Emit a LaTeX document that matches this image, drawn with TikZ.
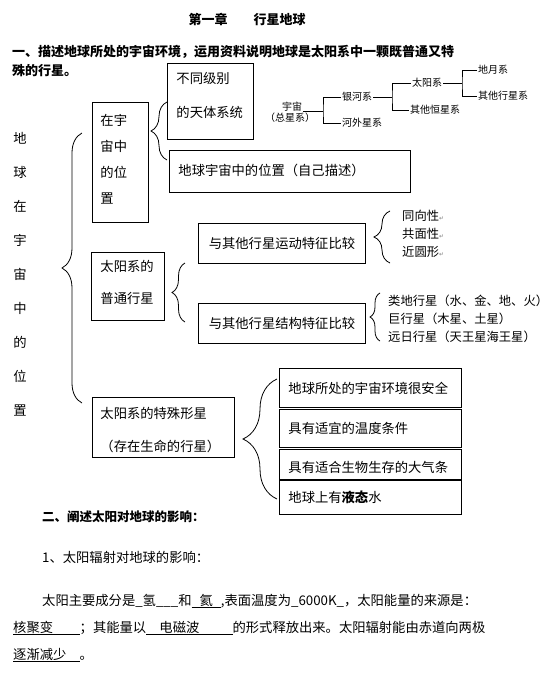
\documentclass[tikz,border=0pt]{standalone}
\usepackage{fontspec}
\setmainfont{Noto Sans CJK SC}
\newfontfamily\retfont{DejaVu Sans}
\usetikzlibrary{decorations.pathreplacing}

\begin{document}
\begin{tikzpicture}[x=1pt,y=-1pt,
  box/.style={draw,line width=0.9pt,anchor=north west,inner xsep=9pt,inner ysep=0pt,align=left,font=\fontsize{13.3}{16}\selectfont},
  txt/.style={inner sep=0pt,anchor=west,font=\fontsize{13.3}{16}\selectfont},
  lst/.style={inner sep=0pt,anchor=west,font=\fontsize{12.3}{14}\selectfont},
  tree/.style={inner sep=1pt,anchor=west,font=\fontsize{10}{11}\selectfont},
  brc/.style={decorate,decoration={brace,amplitude=#1},line width=0.8pt},
  ret/.style={}]

\useasboundingbox (0,0) rectangle (551,683);

\node[font=\bfseries\fontsize{13}{16}\selectfont] (title) at (247,19) {第一章\hspace{2em}行星地球};

\node[txt,font=\bfseries\fontsize{13}{16}\selectfont] (h1) at (12,52) {一、描述地球所处的宇宙环境，运用资料说明地球是太阳系中一颗既普通又特};
\node[txt,font=\bfseries\fontsize{13}{16}\selectfont] (h1b) at (12,71) {殊的行星。};

\node[txt,anchor=center] (s1) at (20,138) {地};
\node[txt,anchor=center] (s2) at (20,172) {球};
\node[txt,anchor=center] (s3) at (20,206) {在};
\node[txt,anchor=center] (s4) at (20,240) {宇};
\node[txt,anchor=center] (s5) at (20,274) {宙};
\node[txt,anchor=center] (s6) at (20,308) {中};
\node[txt,anchor=center] (s7) at (20,342) {的};
\node[txt,anchor=center] (s8) at (20,376) {位};
\node[txt,anchor=center] (s9) at (20,410) {置};

\draw[brc=20pt] (82,403) -- (82,133);

\node[box,inner xsep=8pt,text width=40pt,text height=23pt,text depth=97pt,font=\fontsize{13.3}{26}\selectfont] (zai) at (92,102) {在宇\\宙中\\的位\\置};

\draw[brc=16pt] (167,160) -- (167,102);

\node[box,text width=68pt,text height=20pt,text depth=56pt,font=\fontsize{13.3}{34}\selectfont] (jibie) at (167,63) {不同级别\\的天体系统};

\node[box,text width=223pt,text height=25pt,text depth=17pt] (weizhi) at (169,150) {地球宇宙中的位置（自己描述）};

\node[tree,anchor=center] (yz) at (292,107) {宇宙};
\node[tree,anchor=center] (zxx) at (290,118) {（总星系）};
\node[tree] (yh) at (341,97) {银河系};
\node[tree] (hw) at (341,123) {河外星系};
\node[tree] (tyx) at (411,83) {太阳系};
\node[tree] (qhx) at (409,110) {其他恒星系};
\node[tree] (dyx) at (477,70) {地月系};
\node[tree] (qxx) at (477,96) {其他行星系};

\coordinate (b1) at (323,111);
\coordinate (b2) at (392,97);
\coordinate (b3) at (462,83);

\draw[line width=0.7pt] (b1 -| yz.east) -- (b1);
\draw[line width=0.7pt] (yh.west) -| (b1) |- (hw.west);
\draw[line width=0.7pt] (yh.east) -- (b2);
\draw[line width=0.7pt] (tyx.west) -| (b2) |- (qhx.west);
\draw[line width=0.7pt] (tyx.east) -- (b3);
\draw[line width=0.7pt] (dyx.west) -| (b3) |- (qxx.west);

\node[box,text width=55pt,text height=19pt,text depth=49pt,font=\fontsize{13.3}{32}\selectfont] (putong) at (91,252) {太阳系的\\普通行星};

\draw[brc=13pt] (185,322) -- (185,263);

\node[box,align=center,text width=149pt,text height=25pt,text depth=15pt] (yundong) at (198,223) {与其他行星运动特征比较};
\node[box,align=center,text width=149pt,text height=25pt,text depth=15pt] (jiegou) at (198,303) {与其他行星结构特征比较};

\draw[brc=16pt] (390,263) -- (390,211);

\node[lst] (l1) at (402,216) {同向性{\retfont\fontsize{6}{6}\selectfont\color{gray}↵}};
\node[lst] (l2) at (402,234) {共面性{\retfont\fontsize{6}{6}\selectfont\color{gray}↵}};
\node[lst] (l3) at (402,252) {近圆形{\retfont\fontsize{6}{6}\selectfont\color{gray}↵}};

\draw[brc=10pt] (380,341) -- (380,293);

\node[lst] (m1) at (388,301) {类地行星（水、金、地、火）};
\node[lst] (m2) at (388,319) {巨行星（木星、土星）};
\node[lst] (m3) at (388,337) {远日行星（天王星海王星）};

\node[box,inner xsep=8pt,text width=126pt,text height=21pt,text depth=39pt,font=\fontsize{13.3}{33}\selectfont] (teshu) at (92,397) {太阳系的特殊形星\\（存在生命的行星）};

\draw[brc=34pt] (277,499) -- (277,379);

\node[box,text width=164pt,text height=25pt,text depth=14pt] (ta) at (279,368) {地球所处的宇宙环境很安全};
\node[box,text width=164pt,text height=24pt,text depth=14pt] (tb) at (279,409) {具有适宜的温度条件};
\node[box,text width=164pt,text height=23pt,text depth=8pt] (tc) at (279,449) {具有适合生物生存的大气条};
\node[box,text width=164pt,text height=23pt,text depth=12pt] (td) at (279,479) {地球上有\textbf{液态}水};

\node[txt,font=\bfseries\fontsize{12.5}{16}\selectfont] (h2) at (42,517) {二、阐述太阳对地球的影响：};

\node[txt] (p1) at (42,557) {1、太阳辐射对地球的影响：};

\node[txt] (p2) at (42,601) {太阳主要成分是\_氢\_\_\_和\underline{\hspace{0.6em}氦\hspace{0.6em}},表面温度为\_6000K\_，太阳能量的来源是：};
\node[txt] (p3) at (13,628) {\underline{核聚变\hspace{2em}}；其能量以\underline{\hspace{1em}电磁波\hspace{2.5em}}的形式释放出来。太阳辐射能由赤道向两极};
\node[txt] (p4) at (13,655) {\underline{逐渐减少\hspace{1em}}。};

\end{tikzpicture}
\end{document}
